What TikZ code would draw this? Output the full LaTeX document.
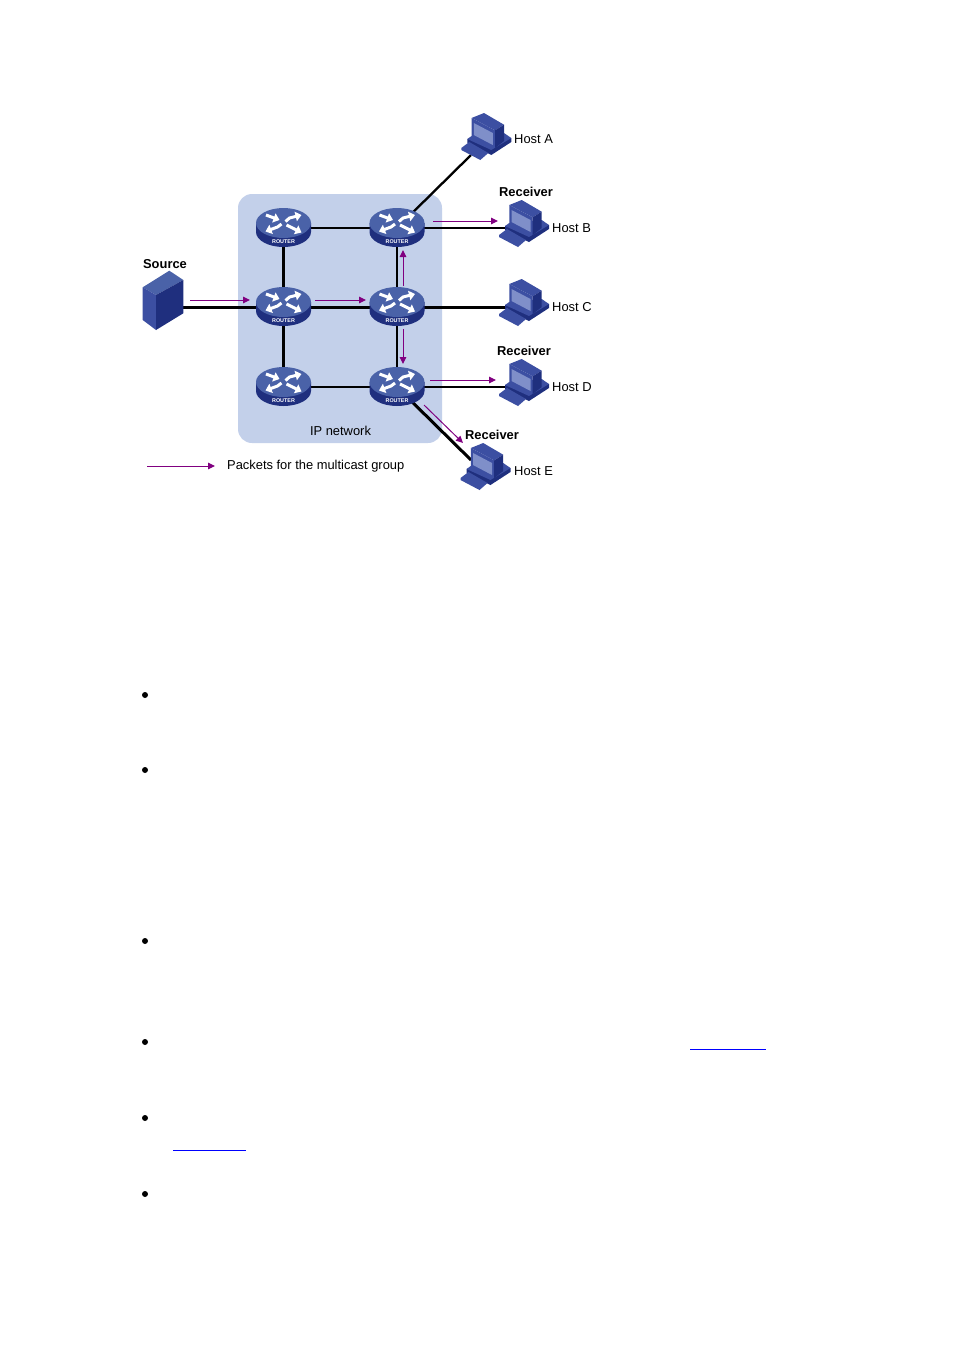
\documentclass[tikz,border=0pt]{standalone}
\usepackage{fontspec}
\setmainfont{Liberation Sans}
\usetikzlibrary{arrows.meta}
\definecolor{ipblue}{HTML}{C3D0EA}
\definecolor{flowpurple}{HTML}{800080}
\definecolor{icontop}{HTML}{4A62A8}
\definecolor{iconface}{HTML}{3C4FA2}
\definecolor{icondark}{HTML}{1F2F7E}
\definecolor{iconscreen}{HTML}{7F8FC9}
\tikzset{
  rtrpic/.pic={
    \fill[icondark] (-27.5,-5) -- (-27.5,4) arc[start angle=180, end angle=0, x radius=27.5, y radius=15]
       -- (27.5,-5) -- cycle;
    \fill[icontop] (0,-5) ellipse[x radius=27.5, y radius=15];
    \draw[white, line width=3pt, -{Triangle[length=6pt, width=9.5pt]}] (-17.5,-13) -- (-4,-8);
    \draw[white, line width=3pt, -{Triangle[length=6pt, width=9.5pt]}] (2,-6.5) -- (6,-10) -- (18,-13);
    \draw[white, line width=3pt, -{Triangle[length=6pt, width=9.5pt]}] (-2,-4) -- (-6,-1) -- (-18,3.5);
    \draw[white, line width=3pt, -{Triangle[length=6pt, width=9.5pt]}] (3,-3) -- (18,4.5);
    \node[white, font=\fontsize{5.4}{5.4}\selectfont\bfseries, inner sep=0pt] at (0,14) {ROUTER};
  },
  hostpic/.pic={
    \fill[icondark] (-20,-2) -- (24,-3) -- (24,1) -- (4,14) -- (-20,2) -- cycle;
    \fill[iconface] (-20,-2) -- (-15.7,-5) -- (16.7,-8) -- (24,-3) -- (4,9) -- cycle;
    \fill[iconface] (-26,7) -- (-18,1) -- (1,12) -- (-7,19) -- (-26,9) -- cycle;
    \fill[iconface] (-15.7,-23) -- (-3.3,-28) -- (16.7,-16.3) -- (7.7,-10.7) -- cycle;
    \fill[iconface] (-15.7,-23) -- (7.7,-10.7) -- (7.7,7) -- (-15.7,-3) -- cycle;
    \fill[iconscreen] (-13.5,-18) -- (5.5,-8) -- (5.5,4) -- (-13.5,-6) -- cycle;
    \fill[icondark] (7.7,-10.7) -- (16.7,-16.3) -- (16.7,0) -- (7.7,7) -- cycle;
  },
  srvpic/.pic={
    \fill[icontop] (-21.3,-19.7) -- (5.3,-36.3) -- (19.3,-27) -- (-8,-12) -- cycle;
    \fill[iconface] (-21.3,-19.7) -- (-8,-12) -- (-8,23) -- (-21.3,13) -- cycle;
    \fill[icondark] (-8,-12) -- (19.3,-27) -- (19.3,6.3) -- (-8,23) -- cycle;
  }
}
\begin{document}
\begin{tikzpicture}[x=1pt, y=-1pt, font=\fontsize{12.9}{15}\selectfont]
\tikzstyle{pt}=[inner sep=0pt, outer sep=0pt, minimum size=0pt]
\tikzstyle{thin link}=[draw=black, line width=2.3pt]
\tikzstyle{thick link}=[draw=black, line width=3pt]
\tikzstyle{flow}=[draw=flowpurple, line width=1pt, -{Triangle[length=7pt, width=6.5pt]}]
\tikzstyle{role}=[inner sep=0pt, font=\fontsize{12.9}{15}\selectfont\bfseries]
\tikzstyle{hostname}=[inner sep=0pt, anchor=west]
\useasboundingbox (0,0) rectangle (954,1350);

\node[fill=ipblue, rounded corners=14pt, minimum width=204pt, minimum height=249pt, inner sep=0pt] (IP) at (340,318.5) {};

\node[pt] (R1) at (283.5,228) {};
\node[pt] (R2) at (397,228) {};
\node[pt] (R3) at (283.5,307) {};
\node[pt] (R4) at (397,307) {};
\node[pt] (R5) at (283.5,387) {};
\node[pt] (R6) at (397,387) {};
\node[pt] (SV) at (164,307) {};
\node[pt] (HA) at (487.3,141) {};
\node[pt] (HB) at (525,228) {};
\node[pt] (HC) at (525,307) {};
\node[pt] (HD) at (525,387) {};
\node[pt] (HE) at (486.5,471) {};
\coordinate (PA) at (471,155);
\coordinate (PE) at (471,460);
\coordinate (KS) at (147,466);
\coordinate (KE) at (215,466);

\path[thin link] (R1) edge (R2)
      (R2) edge (HB)
           edge (PA)
           edge (R4)
      (R5) edge (R6)
      (R6) edge (HD)
           edge (R4);
\path[thick link] (SV) edge (R3)
      (R3) edge (R4)
           edge (R1)
           edge (R5)
      (R4) edge (HC)
      (R6) edge (PE);

\foreach \n in {R1,R2,R3,R4,R5,R6} \pic at (\n) {rtrpic};
\foreach \n in {HA,HB,HC,HD,HE} \pic at (\n) {hostpic};
\pic at (SV) {srvpic};

\draw[flow] (KS) -- (KE);
\draw[flow] ([shift={(26,-7)}]SV.center) -- ([shift={(-33.5,-7)}]R3.center);
\draw[flow] ([shift={(31.5,-7)}]R3.center) -- ([shift={(-31,-7)}]R4.center);
\draw[flow] ([shift={(6,-21)}]R4.center) -- ([shift={(6,22)}]R2.center);
\draw[flow] ([shift={(6,22)}]R4.center) -- ([shift={(6,-23)}]R6.center);
\draw[flow] ([shift={(36,-7)}]R2.center) -- ([shift={(-27,-7)}]HB.center);
\draw[flow] ([shift={(33,-7)}]R6.center) -- ([shift={(-29,-7)}]HD.center);
\draw[flow] ([shift={(27,18)}]R6.center) -- ([shift={(-23.5,-28)}]HE.center);

\node[role] (LS) at (165,264) {Source};
\node[role] (LB) at (526,191.7) {Receiver};
\node[role] (LD) at (524,350.7) {Receiver};
\node[role] (LE) at (492,434.7) {Receiver};
\node[hostname] (TA) at (514,138.7) {Host A};
\node[hostname] (TB) at (552,227.7) {Host B};
\node[hostname] (TC) at (552,307) {Host C};
\node[hostname] (TD) at (552,386.7) {Host D};
\node[hostname] (TE) at (514,470.7) {Host E};
\node[inner sep=0pt] (TN) at (340.5,430.7) {IP network};
\node[hostname] (TL) at (227,466) {Packets for the multicast group};

\foreach \y in {695,770,941,1042,1118,1194}
  \fill[black] (145,\y) circle[radius=3pt];
\draw[blue, line width=1pt] (690,1049) -- (766,1049);
\draw[blue, line width=1pt] (173,1150) -- (246,1150);
\end{tikzpicture}
\end{document}
